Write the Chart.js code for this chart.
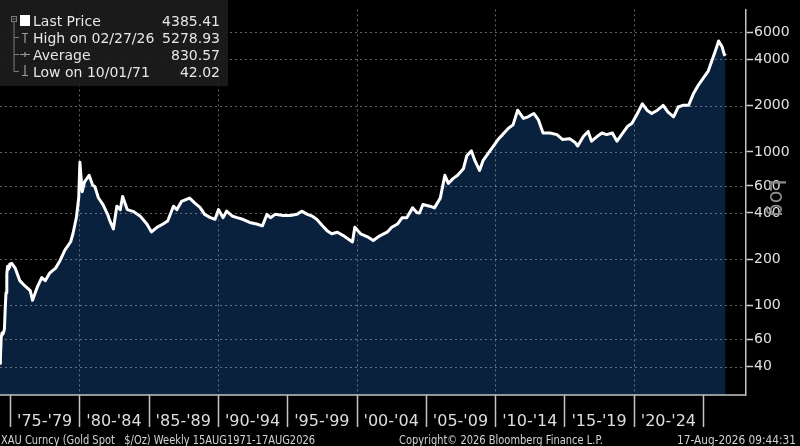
<!DOCTYPE html>
<html><head><meta charset="utf-8">
<script src="https://cdn.jsdelivr.net/npm/chart.js@4.4.1/dist/chart.umd.min.js"></script>
<style>html,body{margin:0;padding:0;background:#000;overflow:hidden}#wrap{width:800px;height:446px;position:relative}</style>
</head><body><div id="wrap"><canvas id="c" width="800" height="446"></canvas></div>
<script>
// ---- data ----
const dates = [
'1971-10','1972-01','1972-04','1972-07','1972-10','1973-01','1973-04','1973-07','1973-10','1974-01','1974-04','1974-07','1974-10','1974-12',
'1975-02','1975-05','1975-09','1976-01','1976-06','1976-08','1976-12','1977-04','1977-07','1977-11',
'1978-04','1978-08','1978-12','1979-05','1979-07','1979-10','1979-12','1980-01','1980-03','1980-05',
'1980-09','1980-12','1981-02','1981-05','1981-09','1982-01','1982-03','1982-06','1982-09','1982-12','1983-02','1983-06',
'1983-11','1984-05','1984-11','1985-03','1985-08','1986-01','1986-05','1986-10','1987-01','1987-05',
'1987-12','1988-05','1988-09','1989-01','1989-06','1989-10','1990-01','1990-05','1990-08','1991-01',
'1991-05','1991-10','1992-04','1992-10','1993-03','1993-07','1993-10','1994-02','1994-09','1995-03',
'1995-09','1996-01','1996-06','1996-10','1997-02','1997-07','1997-11','1998-03','1998-08','1999-01',
'1999-05','1999-09','1999-11','2000-04','2000-10','2001-03','2001-09','2002-03','2002-07','2002-12',
'2003-04','2003-08','2004-01','2004-05','2004-07','2004-10','2005-04','2005-08','2006-01','2006-05',
'2006-08','2006-12','2007-04','2007-09','2007-12','2008-04','2008-07','2008-11','2009-02','2009-06',
'2009-11','2010-03','2010-07','2010-12','2011-04','2011-08','2012-01','2012-05','2012-10','2013-02',
'2013-06','2013-12','2014-06','2014-11','2015-05','2015-10','2015-12','2016-05','2016-09','2016-12',
'2017-05','2017-09','2018-01','2018-06','2018-10','2019-02','2019-07','2019-11','2020-03','2020-08',
'2020-12','2021-04','2021-09','2022-02','2022-06','2022-11','2023-03','2023-07','2023-12','2024-04',
'2024-08','2025-01','2025-05','2025-08','2025-11','2026-02','2026-05','2026-07','2026-08'
];
const prices = [
42.02,46,62,66,65,67,70,95,121,160,180,172,178,186,
188,175,145,135,125,108,131,152,145,163,
175,197,229,260,293,375,503,855,551,638,
704,608,593,503,454,392,355,315,443,421,513,421,
410,383,339,301,324,339,355,443,421,476,
500,460,435,392,373,364,421,373,411,382,
373,364,347,339,330,392,373,392,385,385,
392,411,392,382,364,330,307,293,300,285,
272,259,323,293,280,265,285,300,323,339,
373,373,432,401,400,454,443,432,500,704,
623,670,704,776,944,1015,877,757,877,967,
1092,1204,1296,1427,1500,1869,1652,1693,1779,1614,
1327,1327,1296,1204,1220,1146,1092,1264,1359,1175,
1264,1327,1296,1327,1175,1296,1463,1535,1738,2058,
1869,1779,1869,2010,1821,1693,1960,2010,2010,2380,
2690,3043,3360,3888,4500,5278.93,4840,4288,4385.41
];
const yTicks = [40, 60, 100, 200, 400, 600, 1000, 2000, 4000, 6000];
const periodStarts = [1975, 1980, 1985, 1990, 1995, 2000, 2005, 2010, 2015, 2020, 2025];
const periodLabels = ["'75-'79", "'80-'84", "'85-'89", "'90-'94", "'95-'99", "'00-'04", "'05-'09", "'10-'14", "'15-'19", "'20-'24"];
const gridYears = [1980, 1990, 2000, 2010, 2020];
const legendLabels = ['Last Price', 'High on 02/27/26', 'Average', 'Low on 10/01/71'];
const legendValues = ['4385.41', '5278.93', '830.57', '42.02'];
const footerLeft = 'XAU Curncy (Gold Spot   $/Oz) Weekly 15AUG1971-17AUG2026';
const footerMid = 'Copyright\u00A9 2026 Bloomberg Finance L.P.';
const footerRight = '17-Aug-2026 09:44:31';

// Bloomberg plots by observation: pre-1975 monthly observations take one weekly slot each
function obsPos(d) {
  const [y, m] = d.split('-').map(Number);
  if (y >= 1975) return y + (m - 0.5) / 12;
  const monthsBefore = (1975 - y) * 12 - (m - 1);
  return 1975 - monthsBefore / 52;
}
const points = dates.map((d, i) => ({x: obsPos(d), y: prices[i]}));

const FONT = '"DejaVu Sans", Verdana, sans-serif';
function fitText(ctx, text, x, y, w, align) {
  const m = ctx.measureText(text).width;
  ctx.save();
  ctx.translate(x, y);
  ctx.scale(w / m, 1);
  ctx.textAlign = align;
  ctx.fillText(text, 0, 0);
  ctx.restore();
}

const decor = {
  id: 'decor',
  beforeDraw(chart) {
    const ctx = chart.ctx;
    ctx.save();
    ctx.fillStyle = '#000';
    ctx.fillRect(0, 0, chart.width, chart.height);
    ctx.restore();
  },
  beforeDatasetDraw(chart) {
    const {ctx, chartArea: a, scales: {x, y}} = chart;
    ctx.save();
    ctx.strokeStyle = 'rgba(165,165,165,0.6)';
    ctx.lineWidth = 1;
    ctx.setLineDash([2, 3]);
    yTicks.forEach(v => {
      const py = Math.round(y.getPixelForValue(v)) + 0.5;
      ctx.beginPath(); ctx.moveTo(a.left, py); ctx.lineTo(a.right, py); ctx.stroke();
    });
    gridYears.forEach(yr => {
      const px = Math.round(x.getPixelForValue(yr)) + 0.5;
      ctx.beginPath(); ctx.moveTo(px, a.top); ctx.lineTo(px, a.bottom); ctx.stroke();
    });
    ctx.restore();
  },
  afterDraw(chart) {
    const {ctx, chartArea: a, scales: {x}} = chart;
    ctx.save();
    // bottom axis line + period separators
    ctx.strokeStyle = '#c4c4c4';
    ctx.lineWidth = 1.5;
    ctx.beginPath(); ctx.moveTo(a.left, a.bottom); ctx.lineTo(a.right, a.bottom); ctx.stroke();
    periodStarts.forEach(yr => {
      const px = Math.round(x.getPixelForValue(yr)) + 0.5;
      ctx.beginPath(); ctx.moveTo(px, a.bottom); ctx.lineTo(px, a.bottom + 32); ctx.stroke();
    });
    ctx.fillStyle = '#dedede';
    ctx.font = '16px ' + FONT;
    ctx.textAlign = 'center';
    ctx.textBaseline = 'middle';
    periodLabels.forEach((lab, i) => {
      const cx = (x.getPixelForValue(periodStarts[i]) + x.getPixelForValue(periodStarts[i + 1])) / 2;
      ctx.fillText(lab, cx, a.bottom + 27);
    });
    // footer
    ctx.font = '11.5px ' + FONT;
    ctx.textBaseline = 'alphabetic';
    ctx.fillStyle = '#d4d4d4';
    fitText(ctx, footerLeft, 1, 444, 314, 'left');
    fitText(ctx, footerMid, 399, 444, 204, 'left');
    fitText(ctx, footerRight, 796, 444, 119, 'right');
    // Log label
    ctx.save();
    ctx.translate(775, 198);
    ctx.rotate(Math.PI / 2);
    ctx.font = '21px ' + FONT;
    ctx.fillStyle = '#8a8a8a';
    ctx.textAlign = 'center';
    ctx.textBaseline = 'middle';
    ctx.fillText('Log', 0, 0);
    ctx.restore();
    // legend box
    ctx.fillStyle = 'rgba(28,28,28,0.93)';
    ctx.fillRect(0, 0, 228, 86);
    ctx.strokeStyle = '#7a7a7a';
    ctx.lineWidth = 1;
    ctx.strokeRect(11.5, 16.5, 5, 5);
    ctx.beginPath(); ctx.moveTo(12.5, 19); ctx.lineTo(15.5, 19); ctx.stroke();
    ctx.beginPath(); ctx.moveTo(14, 22); ctx.lineTo(14, 71.5); ctx.stroke();
    [37.5, 54.5, 71.5].forEach(cy => { ctx.beginPath(); ctx.moveTo(14, cy); ctx.lineTo(19, cy); ctx.stroke(); });
    ctx.fillStyle = '#ffffff';
    ctx.fillRect(20, 15, 10, 11);
    ctx.strokeStyle = '#9a9a9a';
    ctx.lineWidth = 1.2;
    ctx.beginPath(); ctx.moveTo(22, 33.5); ctx.lineTo(28, 33.5); ctx.moveTo(25, 33.5); ctx.lineTo(25, 43); ctx.stroke();
    ctx.beginPath(); ctx.moveTo(20, 54.5); ctx.lineTo(30, 54.5); ctx.moveTo(25, 52); ctx.lineTo(25, 57); ctx.stroke();
    ctx.beginPath(); ctx.moveTo(25, 65); ctx.lineTo(25, 75.5); ctx.moveTo(22, 75.5); ctx.lineTo(28, 75.5); ctx.stroke();
    ctx.font = '14px ' + FONT;
    ctx.fillStyle = '#e6e6e6';
    ctx.textBaseline = 'alphabetic';
    legendLabels.forEach((lab, i) => {
      const by = 26 + 16.9 * i;
      ctx.textAlign = 'left';
      ctx.fillText(lab, 33, by);
      ctx.textAlign = 'right';
      ctx.fillText(legendValues[i], 220, by);
    });
    ctx.restore();
  }
};

new Chart(document.getElementById('c'), {
  type: 'line',
  data: {
    datasets: [{
      data: points,
      borderColor: '#ffffff',
      borderWidth: 3,
      borderJoinStyle: 'round',
      pointRadius: 0,
      tension: 0,
      fill: 'start',
      backgroundColor: 'rgb(10,33,62)'
    }]
  },
  options: {
    responsive: false,
    animation: false,
    devicePixelRatio: 1,
    layout: {padding: {left: 0, right: 0, top: 0, bottom: 51}},
    plugins: {legend: {display: false}, tooltip: {enabled: false}, filler: {drawTime: 'beforeDatasetsDraw'}},
    scales: {
      x: {type: 'linear', min: 1974.278, max: 2028.10, display: false},
      y: {
        type: 'logarithmic', position: 'right', min: 26.1, max: 8475, bounds: 'data',
        afterBuildTicks: s => { s.ticks = yTicks.map(v => ({value: v})); },
        afterFit: s => { s.width = 54; },
        grid: {drawOnChartArea: false, drawTicks: true, tickLength: 7, tickColor: '#d0d0d0', tickWidth: 1.5},
        border: {display: true, color: '#c4c4c4', width: 1.5},
        ticks: {color: '#e0e0e0', font: {family: FONT, size: 14}, padding: 1, autoSkip: false, callback: v => String(v)}
      }
    }
  },
  plugins: [decor]
});
</script></body></html>
